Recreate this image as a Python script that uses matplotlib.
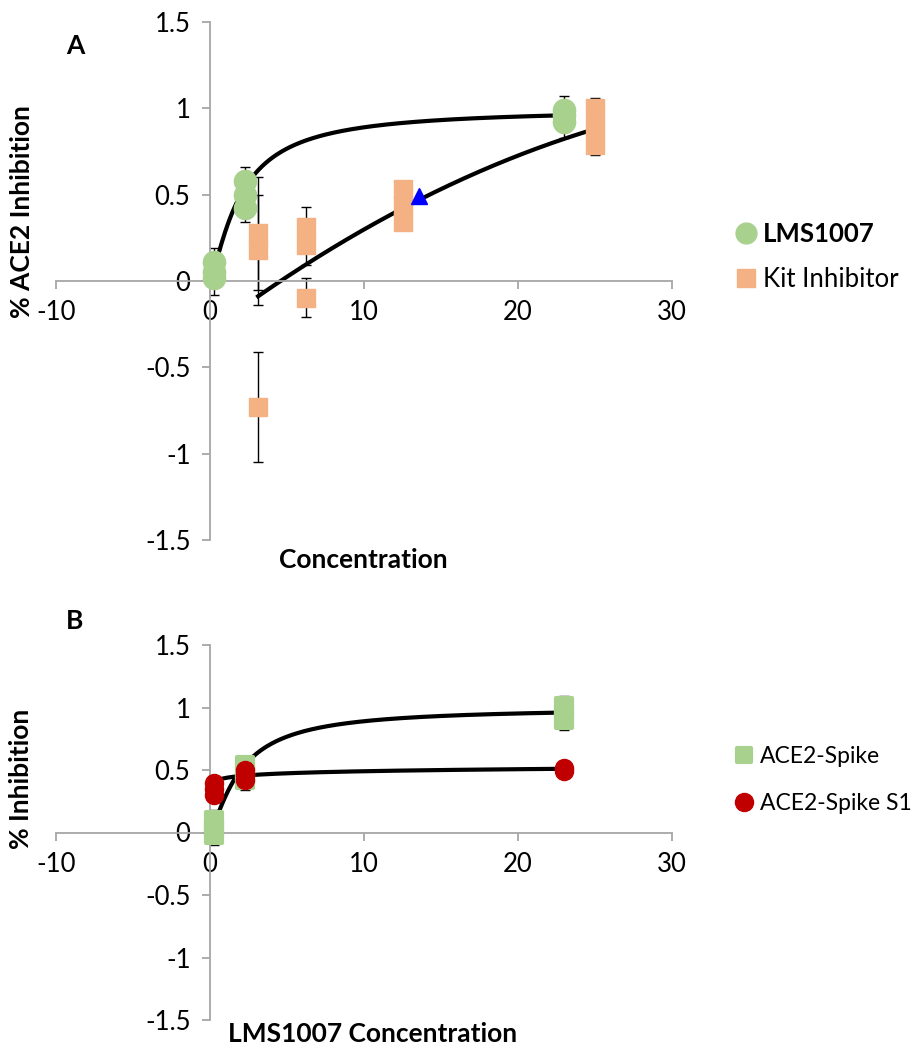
import numpy as np
import matplotlib
matplotlib.use("Agg")
import matplotlib.pyplot as plt
from matplotlib.lines import Line2D
from matplotlib.markers import MarkerStyle

plt.rcParams['font.family'] = ['Lato', 'DejaVu Sans']

# ---- Panel A data ----
lms_x = [0.23, 0.23, 0.23, 2.3, 2.3, 2.3, 23, 23, 23]
lms_y = [0.02, 0.05, 0.11, 0.42, 0.50, 0.58, 0.92, 0.96, 0.99]
lms_err_x = [0.23, 2.3, 23]
lms_err_mid = [0.055, 0.50, 0.95]
lms_err = [0.135, 0.16, 0.12]

kit_x = [3.125, 3.125, 3.125, 6.25, 6.25, 6.25, 12.5, 12.5, 12.5, 25, 25, 25]
kit_y = [0.28, 0.18, -0.73, 0.31, 0.21, -0.10, 0.53, 0.44, 0.34, 1.00, 0.89, 0.79]
kit_err_x = [3.125, 3.125, 3.125, 6.25, 6.25, 12.5, 25, 25]
kit_err_mid = [0.23, 0.225, -0.73, 0.26, -0.095, 0.44, 1.005, 0.84]
kit_err = [0.37, 0.275, 0.32, 0.17, 0.115, 0.14, 0.055, 0.11]

ic50_x = [13.6]
ic50_y = [0.49]

# trendline parameters (Hill for LMS1007, quadratic for kit)
hill_top, hill_k, hill_n = 1.0, 2.0, 1.3
kit_a, kit_b, kit_c = -0.289, 0.0667, -0.000797

# ---- Panel B data ----
spike_x = [0.23, 0.23, 0.23, 2.3, 2.3, 2.3, 23, 23, 23]
spike_y = [-0.02, 0.04, 0.10, 0.42, 0.48, 0.54, 0.90, 0.96, 1.01]
spike_err_x = [0.23, 2.3, 23]
spike_err_mid = [0.04, 0.475, 0.955]
spike_err = [0.14, 0.135, 0.135]

s1_x = [0.23, 0.23, 0.23, 2.3, 2.3, 2.3, 23, 23]
s1_y = [0.30, 0.35, 0.40, 0.42, 0.46, 0.50, 0.49, 0.52]
s1_a, s1_b = 0.0235, 0.436  # log trendline

green = '#A9D18E'
orange = '#F4B183'
red = '#C00000'
gray = '#A6A6A6'
W, H = 919, 1050
FS = 19

fig = plt.figure(figsize=(9.19, 10.5), dpi=100)


def style_axes(ax):
    ax.set_xlim(-10, 30)
    ax.set_ylim(-1.5, 1.5)
    ax.spines['left'].set_position(('data', 0))
    ax.spines['bottom'].set_position(('data', 0))
    ax.spines['top'].set_visible(False)
    ax.spines['right'].set_visible(False)
    for s in ['left', 'bottom']:
        ax.spines[s].set_color(gray)
        ax.spines[s].set_linewidth(1.3)
    ax.set_xticks([-10, 0, 10, 20, 30])
    ax.set_yticks([-1.5, -1, -0.5, 0, 0.5, 1, 1.5])
    ax.set_xticklabels(['-10', '0', '10', '20', '30'])
    ax.set_yticklabels(['-1.5', '-1', '-0.5', '0', '0.5', '1', '1.5'])
    ax.tick_params(axis='both', direction='out', length=6, width=1.3,
                   color=gray, labelsize=18.5, pad=8)
    ax.patch.set_alpha(0)


# ---------- Panel A ----------
ax1 = fig.add_axes([56 / W, 1 - 540 / H, 616 / W, 518 / H])
style_axes(ax1)

xs = np.linspace(0.45, 23, 300)
ax1.plot(xs, hill_top * xs ** hill_n / (hill_k ** hill_n + xs ** hill_n),
         color='black', lw=3, zorder=2)
xk = np.linspace(3.125, 25, 300)
ax1.plot(xk, kit_a + kit_b * xk + kit_c * xk ** 2, color='black', lw=3, zorder=2)

ax1.errorbar(lms_err_x, lms_err_mid, yerr=lms_err, fmt='none', ecolor='black',
             elinewidth=1, capsize=3.6, capthick=1, zorder=1)
ax1.errorbar(kit_err_x, kit_err_mid, yerr=kit_err, fmt='none', ecolor='black',
             elinewidth=1, capsize=3.6, capthick=1, zorder=1)

ax1.plot(lms_x, lms_y, 'o', color=green, ms=16, mec=green, zorder=3)
ax1.plot(kit_x, kit_y, 's', color=orange, ms=12.5, mec=orange, zorder=3)
ax1.plot(ic50_x, ic50_y, '^', color='#0000FF', ms=11, zorder=4)

h1 = [Line2D([], [], ls='none', marker='o', color=green, ms=15),
      Line2D([], [], ls='none', marker='s', color=orange, ms=13)]
leg1 = ax1.legend(h1, ['LMS1007', 'Kit Inhibitor'], loc='center left',
                  bbox_to_anchor=(724 / W, 1 - 257 / H), bbox_transform=fig.transFigure,
                  frameon=False, fontsize=18.5, handlelength=0.7, handletextpad=0.3,
                  labelspacing=0.85, borderpad=0)
leg1.get_texts()[0].set_fontweight('bold')

# ---------- Panel B ----------
ax2 = fig.add_axes([56 / W, 1 - 1020 / H, 616 / W, 375 / H])
style_axes(ax2)

xs2 = np.linspace(0.5, 23, 300)
ax2.plot(xs2, hill_top * xs2 ** hill_n / (hill_k ** hill_n + xs2 ** hill_n),
         color='black', lw=3, zorder=2)
xr = np.linspace(0.6, 23, 300)
ax2.plot(xr, s1_a * np.log(xr) + s1_b, color='black', lw=3, zorder=2)

ax2.errorbar(spike_err_x, spike_err_mid, yerr=spike_err, fmt='none', ecolor='black',
             elinewidth=1, capsize=3.6, capthick=1, zorder=1)

sq = MarkerStyle('s', joinstyle='round')
ax2.plot(spike_x, spike_y, ls='none', marker=sq, color=green, ms=11, mec=green,
         mew=3, zorder=3)
ax2.plot(s1_x, s1_y, 'o', color=red, ms=13, mec=red, zorder=4)

h2 = [Line2D([], [], ls='none', marker=sq, color=green, ms=10, mew=3, mec=green),
      Line2D([], [], ls='none', marker='o', color=red, ms=13)]
ax2.legend(h2, ['ACE2-Spike', 'ACE2-Spike S1'], loc='center left',
           bbox_to_anchor=(724 / W, 1 - 780 / H), bbox_transform=fig.transFigure,
           frameon=False, fontsize=16.5, handlelength=0.75, handletextpad=0.3,
           labelspacing=1.1, borderpad=0)

# ---------- text ----------
fig.text(75 / W, 1 - 46 / H, 'A', fontsize=FS, fontweight='bold', ha='center', va='center')
fig.text(75 / W, 1 - 621 / H, 'B', fontsize=FS, fontweight='bold', ha='center', va='center')
fig.text(22 / W, 1 - 212 / H, '% ACE2 Inhibition', rotation=90, fontsize=FS,
         fontweight='bold', ha='center', va='center')
fig.text(21 / W, 1 - 779 / H, '% Inhibition', rotation=90, fontsize=FS,
         fontweight='bold', ha='center', va='center')
fig.text(363 / W, 1 - 560 / H, 'Concentration', fontsize=FS, fontweight='bold',
         ha='center', va='center')
fig.text(373 / W, 1 - 1034 / H, 'LMS1007 Concentration', fontsize=FS,
         fontweight='bold', ha='center', va='center')

fig.savefig('out.png', dpi=100)
